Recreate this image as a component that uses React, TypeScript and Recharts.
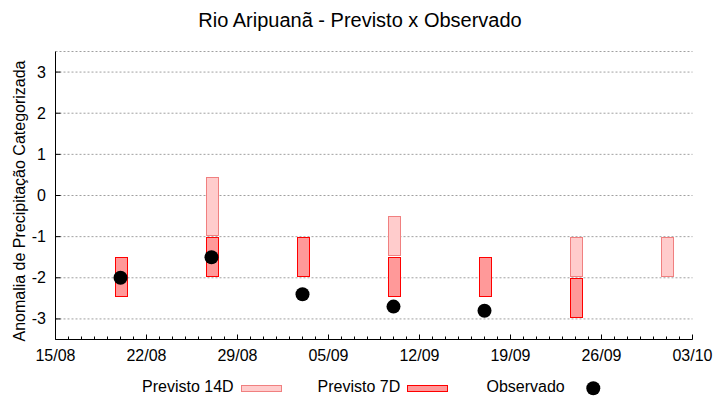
import React from 'react';
import { ComposedChart, Bar, Scatter, XAxis, YAxis, CartesianGrid, Legend } from 'recharts';

// datas das previsões / observações
const dates = ['20/08', '27/08', '03/09', '10/09', '17/09', '24/09', '01/10'];
const previsto14Topo = [null, 0.45, null, -0.5, null, -1, -1];
const previsto14Base = [null, -0.95, null, -1.45, null, -1.95, -1.95];
const previsto7Topo = [-1.5, -1, -1, -1.5, -1.5, -2, null];
const previsto7Base = [-2.45, -1.95, -1.95, -2.45, -2.45, -2.95, null];
const observado = [-2, -1.5, -2.4, -2.7, -2.8, null, null];

const xTickLabels = ['15/08', '22/08', '29/08', '05/09', '12/09', '19/09', '26/09', '03/10'];
const yTicks = [-3, -2, -1, 0, 1, 2, 3];

const FONT = '"Liberation Sans", Arial, sans-serif';
const COR_14D = { fill: '#ffcccc', stroke: '#f08080' };
const COR_7D = { fill: '#ff9999', stroke: '#ff0000' };

// dias contados a partir de 15/08
const dia = (s: string) => {
  const [d, m] = s.split('/').map(Number);
  return Math.round((Date.UTC(2000, m - 1, d) - Date.UTC(2000, 7, 15)) / 86400000);
};

const majorDays = xTickLabels.map(dia);
const xMax = majorDays[majorDays.length - 1];
const allDays = Array.from({ length: xMax + 1 }, (_, i) => i);

const data = dates.map((d, i) => ({
  x: dia(d),
  p14: previsto14Topo[i] == null ? null : [previsto14Base[i], previsto14Topo[i]],
  p7: previsto7Topo[i] == null ? null : [previsto7Base[i], previsto7Topo[i]],
}));

const obsData = dates
  .map((d, i) => ({ x: dia(d), y: observado[i] }))
  .filter(r => r.y != null);

const BottomTick = (props: any) => {
  const { x, y, payload } = props;
  const idx = majorDays.indexOf(payload.value);
  const major = idx >= 0;
  return (
    <g>
      <line x1={x} x2={x} y1={y} y2={y - (major ? 5 : 3)} stroke="#000" />
      {major && (
        <text x={x} y={y + 21} textAnchor="middle" fontSize={16} fontFamily={FONT} fill="#000">
          {xTickLabels[idx]}
        </text>
      )}
    </g>
  );
};

const TopTick = (props: any) => {
  const { x, y, payload } = props;
  const major = majorDays.includes(payload.value);
  return <line x1={x} x2={x} y1={y} y2={y + (major ? 5 : 3)} stroke="#000" />;
};

const LeftTick = (props: any) => {
  const { x, y, payload } = props;
  return (
    <g>
      <line x1={x} x2={x + 5} y1={y} y2={y} stroke="#000" />
      <text x={x - 9.5} y={y + 5.5} textAnchor="end" fontSize={16} fontFamily={FONT} fill="#000">
        {payload.value}
      </text>
    </g>
  );
};

const RightTick = (props: any) => {
  const { x, y } = props;
  return <line x1={x} x2={x - 5} y1={y} y2={y} stroke="#000" />;
};

const caixa = (key: string, cor: { fill: string; stroke: string }) => (props: any) => {
  const { x, y, width, height, payload } = props;
  if (!payload || payload[key] == null || isNaN(y) || isNaN(height)) return <g />;
  const top = Math.min(y, y + height);
  const h = Math.abs(height);
  return (
    <rect
      x={Math.round(x) + 0.5}
      y={Math.round(top) + 0.5}
      width={Math.round(width)}
      height={Math.round(h)}
      fill={cor.fill}
      stroke={cor.stroke}
      strokeWidth={1}
    />
  );
};

const Legenda = () => (
  <svg width={720} height={33} style={{ display: 'block' }} fontFamily={FONT} fontSize={16}>
    <text x={142} y={25} fill="#000">Previsto 14D</text>
    <rect x={241.5} y={18.5} width={40} height={6} fill={COR_14D.fill} stroke={COR_14D.stroke} />
    <text x={317.5} y={25} fill="#000">Previsto 7D</text>
    <rect x={407.5} y={18.5} width={40} height={6} fill={COR_7D.fill} stroke={COR_7D.stroke} />
    <text x={486.5} y={25} fill="#000">Observado</text>
    <circle cx={593.3} cy={21.3} r={7} fill="#000" />
  </svg>
);

export default function App() {
  return (
    <div style={{ position: 'absolute', left: 0, top: 0, width: 720, height: 400, background: '#fff' }}>
      <ComposedChart
        width={720}
        height={400}
        data={data}
        margin={{ top: 51.5, right: 27.5, bottom: 0, left: 0 }}
      >
        <text x={360} y={27} textAnchor="middle" fontSize={20} fontFamily={FONT} fill="#000">
          Rio Aripuanã - Previsto x Observado
        </text>
        <text
          transform="translate(25,201) rotate(-90)"
          textAnchor="middle"
          fontSize={16}
          fontFamily={FONT}
          fill="#000"
        >
          Anomalia de Precipitação Categorizada
        </text>
        <CartesianGrid vertical={false} stroke="#a0a0a0" strokeDasharray="2 2" />
        <XAxis
          dataKey="x"
          type="number"
          domain={[0, xMax]}
          ticks={allDays}
          interval={0}
          tick={<BottomTick />}
          tickLine={false}
          tickSize={0}
          tickMargin={0}
          height={27.5}
          axisLine={{ stroke: '#000' }}
          allowDataOverflow
        />
        <XAxis
          xAxisId="top"
          orientation="top"
          dataKey="x"
          type="number"
          domain={[0, xMax]}
          ticks={allDays}
          interval={0}
          tick={<TopTick />}
          tickLine={false}
          tickSize={0}
          tickMargin={0}
          height={0}
          axisLine={{ stroke: '#000' }}
          allowDataOverflow
        />
        <YAxis
          type="number"
          domain={[-3.5, 3.5]}
          ticks={yTicks}
          interval={0}
          tick={<LeftTick />}
          tickLine={false}
          tickSize={0}
          tickMargin={0}
          width={55.5}
          axisLine={{ stroke: '#000' }}
          allowDataOverflow
        />
        <YAxis
          yAxisId="right"
          orientation="right"
          type="number"
          domain={[-3.5, 3.5]}
          ticks={yTicks}
          interval={0}
          tick={<RightTick />}
          tickLine={false}
          tickSize={0}
          tickMargin={0}
          width={0}
          axisLine={{ stroke: '#000' }}
          allowDataOverflow
        />
        <Bar
          xAxisId="top"
          dataKey="p14"
          name="Previsto 14D"
          barSize={12}
          shape={caixa('p14', COR_14D)}
          isAnimationActive={false}
        />
        <Bar
          dataKey="p7"
          name="Previsto 7D"
          barSize={12}
          shape={caixa('p7', COR_7D)}
          isAnimationActive={false}
        />
        <Scatter
          data={obsData}
          dataKey="y"
          name="Observado"
          shape={(p: any) => <circle cx={p.cx} cy={p.cy} r={7} fill="#000" />}
          isAnimationActive={false}
        />
        <Legend
          verticalAlign="bottom"
          content={<Legenda />}
          wrapperStyle={{ left: 0, width: 720, height: 33, bottom: 0 }}
        />
      </ComposedChart>
    </div>
  );
}
